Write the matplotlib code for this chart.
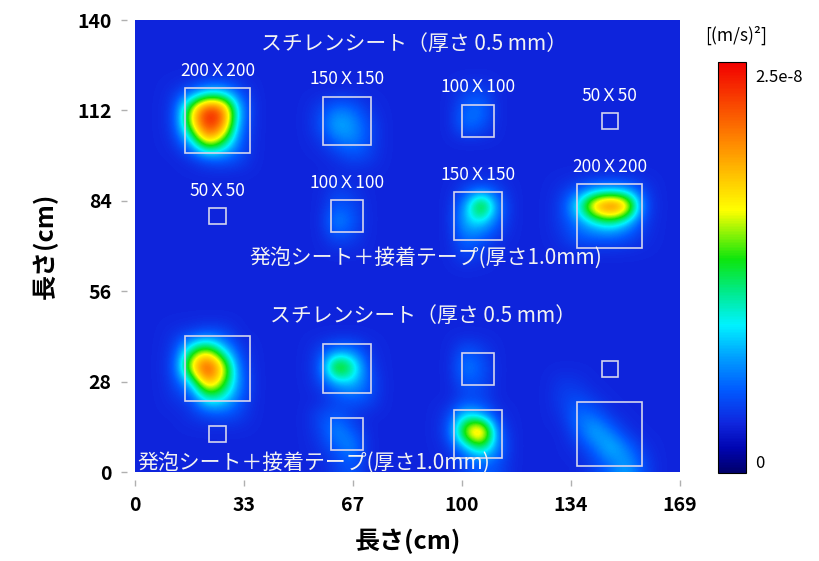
import numpy as np
import matplotlib
matplotlib.use('Agg')
import matplotlib.pyplot as plt
from matplotlib.colors import LinearSegmentedColormap
from matplotlib.patches import Rectangle

plt.rcParams['font.family'] = ['Noto Sans CJK JP', 'DejaVu Sans']

# plate (cm), measured on a 5 cm grid; values in 1e-9 (m/s)^2
plate_w, plate_h = 170, 140
cell = 5
background = 3.0
vmax = 25.0

xtick_labels = ['0', '33', '67', '100', '134', '169']
ytick_labels = ['0', '28', '56', '84', '112', '140']

# test pieces: column centres, row centres (cm), side length (cm) per row
col_x = [25.6, 65.7, 106.4, 147.2]
row_y = [108.8, 79.3, 32.0, 11.8]
row_sizes = [[20, 15, 10, 5],
             [5, 10, 15, 20],
             [20, 15, 10, 5],
             [5, 10, 15, 20]]
labelled_rows = [0, 1]

captions = ['スチレンシート（厚さ 0.5 mm）',
            '発泡シート＋接着テープ(厚さ1.0mm)',
            'スチレンシート（厚さ 0.5 mm）',
            '発泡シート＋接着テープ(厚さ1.0mm)']
caption_x = [86.5, 90.2, 89.3, 0.6]
caption_y = [132.6, 66.3, 48.3, 2.9]
caption_ha = ['center', 'center', 'center', 'left']

# hot spots: top-left grid cell (row from top, column) and the cell values
spot_row = [4, 5, 4, 10, 10, 10, 19, 20, 20, 24, 23, 22]
spot_col = [2, 11, 20, 12, 20, 26, 2, 11, 20, 11, 19, 26]
spot_vals = [
    [[3.5, 5, 8, 8, 4.5],
     [4, 16, 25, 22, 7],
     [4, 16, 25, 21, 6],
     [3.5, 8, 19, 13, 5],
     [3, 3.5, 5, 5.5, 4.5]],
    [[4, 6, 5.5, 3.5],
     [4.5, 8, 7, 4.5],
     [3.5, 5.5, 6.5, 4.5],
     [3, 3.5, 4.5, 4]],
    [[4, 4.5],
     [5.5, 6],
     [6, 5]],
    [[4, 3.5],
     [5, 4.5],
     [7, 5],
     [4.5, 4]],
    [[4, 5, 4],
     [7, 17, 6],
     [8, 9, 5],
     [6, 5, 3.5],
     [4.5, 3.5, 3]],
    [[3.5, 4.5, 6, 6.5, 6, 4],
     [4, 10, 21, 25, 21, 5],
     [4, 6, 9, 11, 8, 4],
     [3.5, 5, 5, 5, 4.5, 3.5]],
    [[3.5, 4, 5, 4.5, 3],
     [4, 12, 16, 9, 4],
     [4.5, 18, 25, 17, 5],
     [4, 8, 20, 14, 6],
     [3.5, 4, 10, 9, 5],
     [3, 3.5, 4, 4.5, 4]],
    [[4, 6, 6, 3.5],
     [4.5, 17, 12, 4],
     [4, 7, 8, 5],
     [3, 4, 5, 4.5]],
    [[5, 4],
     [6.5, 5],
     [5, 4.5]],
    [[4.5, 5, 3.5],
     [4, 7, 5],
     [3.5, 5, 7],
     [3, 4, 5]],
    [[3, 4, 4, 3],
     [4, 9, 7, 3.5],
     [4.5, 17, 23, 5],
     [3.5, 7, 12, 6],
     [3, 4, 5, 4.5]],
    [[3.8, 3.5, 3, 3, 3, 3],
     [4, 4.5, 3.5, 3, 3, 3],
     [3.5, 6, 5.5, 3.5, 3, 3],
     [3, 5, 8, 6, 3.5, 3],
     [3, 3.5, 5.5, 8.5, 6, 3.5],
     [3, 3, 4, 5.5, 7.5, 4.5]],
]

heat = np.full((plate_h // cell, plate_w // cell), background)
for r0, c0, vals in zip(spot_row, spot_col, spot_vals):
    v = np.array(vals, dtype=float)
    heat[r0:r0 + v.shape[0], c0:c0 + v.shape[1]] = v

cmap = LinearSegmentedColormap.from_list('field', [
    (0.00, (0.00, 0.00, 0.42)),
    (0.06, (0.00, 0.02, 0.70)),
    (0.12, (0.06, 0.15, 0.87)),
    (0.20, (0.00, 0.35, 1.00)),
    (0.28, (0.00, 0.62, 1.00)),
    (0.36, (0.00, 0.95, 1.00)),
    (0.44, (0.00, 0.92, 0.55)),
    (0.52, (0.05, 0.90, 0.05)),
    (0.64, (1.00, 1.00, 0.00)),
    (0.80, (1.00, 0.55, 0.00)),
    (1.00, (0.95, 0.00, 0.00)),
])

fig = plt.figure(figsize=(8.2, 5.61), dpi=100)
ax = fig.add_axes([135 / 820, 89 / 561, 545 / 820, 452 / 561])

im = ax.imshow(heat, extent=[0, plate_w, 0, plate_h], origin='upper',
               cmap=cmap, vmin=0, vmax=vmax, interpolation='bicubic',
               aspect='auto')
ax.set_xlim(0, 169)
ax.set_ylim(0, 140)

# boxes + size labels
for i, y in enumerate(row_y):
    for j, x in enumerate(col_x):
        s = row_sizes[i][j]
        ax.add_patch(Rectangle((x - s / 2, y - s / 2), s, s, fill=False,
                               edgecolor='#d4d4ee', lw=1.2))
        if i in labelled_rows:
            ax.text(x, y + s / 2 + 5.3, '%dＸ%d' % (s * 10, s * 10),
                    color='white', fontsize=12.5, ha='center', va='center')

for t, x, y, ha in zip(captions, caption_x, caption_y, caption_ha):
    ax.text(x, y, t, color='#f2f2f2', fontsize=15, ha=ha, va='center')

for s in ax.spines.values():
    s.set_visible(False)
ax.spines['bottom'].set_position(('outward', 6))
ax.spines['left'].set_position(('outward', 6))

ax.set_xticks(np.linspace(0, 169, len(xtick_labels)))
ax.set_xticklabels(xtick_labels, fontweight='bold')
ax.set_yticks(np.linspace(0, 140, len(ytick_labels)))
ax.set_yticklabels(ytick_labels, fontweight='bold')
ax.tick_params(length=4, width=1, color='#b0b0b0', labelsize=14, pad=7)

ax.set_xlabel('長さ(cm)', fontsize=18, fontweight='bold', labelpad=10)
ax.set_ylabel('長さ(cm)', fontsize=18, fontweight='bold', labelpad=14)

cax = fig.add_axes([718 / 820, 88 / 561, 28 / 820, 411 / 561])
cb = fig.colorbar(im, cax=cax, ticks=[0.67, 24.2])
cb.ax.set_yticklabels(['0', '2.5e-8'])
cb.ax.tick_params(length=0, labelsize=12, pad=6.5)
cb.outline.set_linewidth(0.8)
fig.text(736 / 820, 1 - 35 / 561, '[(m/s)²]', ha='center', va='center',
         fontsize=12.5)

fig.savefig('out.png', dpi=100)
